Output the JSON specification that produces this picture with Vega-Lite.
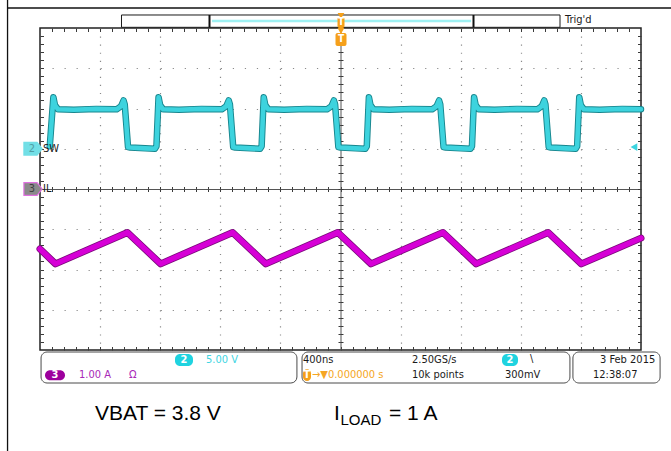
{
 "$schema": "https://vega.github.io/schema/vega-lite/v6.json",
 "width": 601,
 "height": 322,
 "autosize": "none",
 "padding": {"left": 40, "top": 28, "right": 30, "bottom": 101},
 "background": "white",
 "config": {
  "view": {"stroke": "#222222", "strokeWidth": 1.5},
  "axis": {"labels": false, "grid": false, "domain": false, "ticks": false, "tickColor": "#3a3a3a", "tickWidth": 1, "domainColor": "#555555", "domainWidth": 1, "gridColor": "#8a8a8a", "gridWidth": 1.2, "gridOpacity": 1},
  "text": {"font": "DejaVu Sans Condensed, DejaVu Sans, sans-serif", "fontSize": 11, "baseline": "middle", "align": "left"}
 },
 "resolve": {"scale": {"y": "independent", "color": "independent", "fill": "independent", "stroke": "independent"}, "axis": {"x": "independent", "y": "independent"}},
 "datasets": {
  "frame": [{"t": -2216, "t2": -2216, "y": 4.75, "y2": -6.6}, {"t": -2216, "t2": 2210, "y": 4.497, "y2": 4.497}],
  "boxes": [{"t": -1993, "t2": -290, "y": -4.05, "y2": -4.82}, {"t": -256, "t2": 1527, "y": -4.05, "y2": -4.82}, {"t": 1547, "t2": 2127, "y": -4.05, "y2": -4.82}],
  "trigbar": [{"t": -1457.6, "t2": 1460.9, "y": 4.323, "y2": 4.017}],
  "brackets": [{"t": -871.9, "t2": -871.9, "y": 4.323, "y2": 4.017}, {"t": 885.2, "t2": 885.2, "y": 4.323, "y2": 4.017}],
  "cyanbar": [{"t": -855, "t2": 869, "y": 4.174, "y2": 4.174}],
  "sw": [
   {"t": -1935, "v": 0.3}, {"t": -1911, "v": 6.4}, {"t": -1900, "v": 5.4}, {"t": -1880, "v": 4.9}, {"t": -1775, "v": 4.85}, {"t": -1625, "v": 4.95}, {"t": -1490, "v": 4.9}, {"t": -1460, "v": 5.3}, {"t": -1444, "v": 6.0}, {"t": -1436, "v": 5.5}, {"t": -1414, "v": 0.2}, {"t": -1400, "v": 0.15}, {"t": -1300, "v": 0.05}, {"t": -1235, "v": 0.0}, {"t": -1225, "v": 0.3},
   {"t": -1211, "v": 6.4}, {"t": -1200, "v": 5.4}, {"t": -1180, "v": 4.9}, {"t": -1075, "v": 4.85}, {"t": -925, "v": 4.95}, {"t": -790, "v": 4.9}, {"t": -760, "v": 5.3}, {"t": -744, "v": 6.0}, {"t": -736, "v": 5.5}, {"t": -714, "v": 0.2}, {"t": -700, "v": 0.15}, {"t": -600, "v": 0.05}, {"t": -535, "v": 0.0}, {"t": -525, "v": 0.3},
   {"t": -511, "v": 6.4}, {"t": -500, "v": 5.4}, {"t": -480, "v": 4.9}, {"t": -375, "v": 4.85}, {"t": -225, "v": 4.95}, {"t": -90, "v": 4.9}, {"t": -60, "v": 5.3}, {"t": -44, "v": 6.0}, {"t": -36, "v": 5.5}, {"t": -14, "v": 0.2}, {"t": 0, "v": 0.15}, {"t": 100, "v": 0.05}, {"t": 165, "v": 0.0}, {"t": 175, "v": 0.3},
   {"t": 189, "v": 6.4}, {"t": 200, "v": 5.4}, {"t": 220, "v": 4.9}, {"t": 325, "v": 4.85}, {"t": 475, "v": 4.95}, {"t": 610, "v": 4.9}, {"t": 640, "v": 5.3}, {"t": 656, "v": 6.0}, {"t": 664, "v": 5.5}, {"t": 686, "v": 0.2}, {"t": 700, "v": 0.15}, {"t": 800, "v": 0.05}, {"t": 865, "v": 0.0}, {"t": 875, "v": 0.3},
   {"t": 889, "v": 6.4}, {"t": 900, "v": 5.4}, {"t": 920, "v": 4.9}, {"t": 1025, "v": 4.85}, {"t": 1175, "v": 4.95}, {"t": 1310, "v": 4.9}, {"t": 1340, "v": 5.3}, {"t": 1356, "v": 6.0}, {"t": 1364, "v": 5.5}, {"t": 1386, "v": 0.2}, {"t": 1400, "v": 0.15}, {"t": 1500, "v": 0.05}, {"t": 1565, "v": 0.0}, {"t": 1575, "v": 0.3},
   {"t": 1589, "v": 6.4}, {"t": 1600, "v": 5.4}, {"t": 1620, "v": 4.9}, {"t": 1725, "v": 4.85}, {"t": 1875, "v": 4.95}, {"t": 2000, "v": 4.9}
  ],
  "il": [
   {"t": -2000, "y": -1.49}, {"t": -1897, "y": -1.86}, {"t": -1418, "y": -1.08}, {"t": -1197, "y": -1.86}, {"t": -718, "y": -1.08}, {"t": -497, "y": -1.86}, {"t": -18, "y": -1.08}, {"t": 203, "y": -1.86}, {"t": 682, "y": -1.08}, {"t": 903, "y": -1.86}, {"t": 1382, "y": -1.08}, {"t": 1603, "y": -1.86}, {"t": 2000, "y": -1.22}
  ],
  "trigtri": [{"t": 3, "y": 4.30}, {"t": 3, "y": 3.925}],
  "trigrect": [{"t": -20, "t2": 26.6, "y": 4.273, "y2": 4.0}, {"t": -33.3, "t2": 40, "y": 3.876, "y2": 3.553}],
  "trigtext": [{"t": 3.3, "y": 4.137, "text": "T"}, {"t": 3.3, "y": 3.715, "text": "T"}],
  "level": [{"t": 1953, "y": 1.043}],
  "badges": [{"t": -2046.6, "y": 1.0, "ch": "2", "text": "2"}, {"t": -2046.6, "y": 0, "ch": "3", "text": "3"}],
  "pills": [{"t": -1101.5, "t2": -981.7, "y": -4.10, "y2": -4.40, "ch": "2"}, {"t": -1966.7, "t2": -1833.6, "y": -4.50, "y2": -4.75, "ch": "3"}, {"t": 1074.9, "t2": 1181.4, "y": -4.10, "y2": -4.40, "ch": "2"}, {"t": -249.6, "t2": -196.3, "y": -4.48, "y2": -4.77, "ch": "T"}],
  "pilltexts": [{"t": -1041.6, "y": -4.25, "text": "2"}, {"t": -1900, "y": -4.625, "text": "3"}, {"t": 1128, "y": -4.25, "text": "2"}, {"t": -223, "y": -4.625, "text": "T"}],
  "infotexts": [
   {"t": -895.2, "y": -4.25, "text": "5.00 V", "ch": "2"},
   {"t": -1740.4, "y": -4.62, "text": "1.00 A", "ch": "3"},
   {"t": -1407.7, "y": -4.62, "text": "Ω", "ch": "3"},
   {"t": -249.6, "y": -4.25, "text": "400ns", "ch": "k"},
   {"t": 475.9, "y": -4.25, "text": "2.50GS/s", "ch": "k"},
   {"t": 1261, "y": -4.22, "text": "\\", "ch": "k"},
   {"t": -189.7, "y": -4.62, "text": "→▼0.000000 s", "ch": "T"},
   {"t": 475.9, "y": -4.62, "text": "10k points", "ch": "k"},
   {"t": 1094.9, "y": -4.62, "text": "300mV", "ch": "k"},
   {"t": 1727.1, "y": -4.25, "text": "3 Feb  2015", "ch": "k"},
   {"t": 1680.5, "y": -4.62, "text": "12:38:07", "ch": "k"},
   {"t": 1494.2, "y": 4.199, "text": "Trig'd", "ch": "k"},
   {"t": -1980, "y": 1.0, "text": "SW", "ch": "k"},
   {"t": -1980, "y": 0, "text": "IL", "ch": "k"}
  ],
  "caption": [{"t": -1634, "y": -5.6, "text": "VBAT = 3.8 V"}, {"t": -43.3, "y": -5.6, "text": "I"}, {"t": 322.8, "y": -5.6, "text": "= 1 A"}],
  "captionsub": [{"t": 0, "y": -5.75, "text": "LOAD"}]
 },
 "encoding": {
  "x": {"field": "t", "type": "quantitative", "scale": {"domain": [-2000, 2000], "nice": false, "zero": false}, "axis": null},
  "y": {"field": "y", "type": "quantitative", "scale": {"domain": [-4, 4], "nice": false, "zero": false}, "axis": null}
 },
 "layer": [
  {
   "data": {"name": "frame"},
   "mark": {"type": "rule", "color": "#111111", "strokeWidth": 1.3},
   "encoding": {
    "x": {"field": "t", "type": "quantitative", "scale": {"domain": [-2000, 2000], "nice": false, "zero": false}, "axis": {"orient": "bottom", "grid": true, "gridDash": [1.2, 6.85], "values": [-1600, -1200, -800, -400, 400, 800, 1200, 1600], "title": null}},
    "x2": {"field": "t2"},
    "y": {"field": "y", "type": "quantitative", "scale": {"domain": [-4, 4], "nice": false, "zero": false}, "axis": {"orient": "left", "grid": true, "gridDash": [1.2, 10.82], "values": [-3, -2, -1, 1, 2, 3], "title": null}},
    "y2": {"field": "y2"}
   }
  },
  {
   "data": {"name": "boxes"},
   "mark": {"type": "rect", "fill": "white", "stroke": "#4a4a4a", "strokeWidth": 1, "cornerRadius": 6},
   "encoding": {
    "x": {"field": "t", "type": "quantitative", "scale": {"domain": [-2000, 2000], "nice": false, "zero": false}, "axis": {"orient": "bottom", "ticks": true, "tickSize": -3.5, "values": [-1920,-1840,-1760,-1680,-1600,-1520,-1440,-1360,-1280,-1200,-1120,-1040,-960,-880,-800,-720,-640,-560,-480,-400,-320,-240,-160,-80,0,80,160,240,320,400,480,560,640,720,800,880,960,1040,1120,1200,1280,1360,1440,1520,1600,1680,1760,1840,1920], "title": null}},
    "x2": {"field": "t2"},
    "y": {"field": "y", "type": "quantitative", "scale": {"domain": [-4, 4], "nice": false, "zero": false}, "axis": {"orient": "left", "ticks": true, "tickSize": -3.5, "values": [-3.8,-3.6,-3.4,-3.2,-3,-2.8,-2.6,-2.4,-2.2,-2,-1.8,-1.6,-1.4,-1.2,-1,-0.8,-0.6,-0.4,-0.2,0,0.2,0.4,0.6,0.8,1,1.2,1.4,1.6,1.8,2,2.2,2.4,2.6,2.8,3,3.2,3.4,3.6,3.8], "title": null}},
    "y2": {"field": "y2"}
   }
  },
  {
   "data": {"name": "trigbar"},
   "mark": {"type": "rect", "fill": "white", "stroke": "#1a1a1a", "strokeWidth": 1},
   "encoding": {
    "x": {"field": "t", "type": "quantitative", "scale": {"domain": [-2000, 2000], "nice": false, "zero": false}, "axis": {"orient": "top", "ticks": true, "tickSize": -3.5, "values": [-1920,-1840,-1760,-1680,-1600,-1520,-1440,-1360,-1280,-1200,-1120,-1040,-960,-880,-800,-720,-640,-560,-480,-400,-320,-240,-160,-80,0,80,160,240,320,400,480,560,640,720,800,880,960,1040,1120,1200,1280,1360,1440,1520,1600,1680,1760,1840,1920], "title": null}},
    "x2": {"field": "t2"},
    "y": {"field": "y", "type": "quantitative", "scale": {"domain": [-4, 4], "nice": false, "zero": false}, "axis": {"orient": "right", "ticks": true, "tickSize": -3.5, "values": [-3.8,-3.6,-3.4,-3.2,-3,-2.8,-2.6,-2.4,-2.2,-2,-1.8,-1.6,-1.4,-1.2,-1,-0.8,-0.6,-0.4,-0.2,0,0.2,0.4,0.6,0.8,1,1.2,1.4,1.6,1.8,2,2.2,2.4,2.6,2.8,3,3.2,3.4,3.6,3.8], "title": null}},
    "y2": {"field": "y2"}
   }
  },
  {
   "data": {"name": "brackets"},
   "mark": {"type": "rule", "color": "#111111", "strokeWidth": 2},
   "encoding": {
    "x": {"field": "t", "type": "quantitative", "scale": {"domain": [-2000, 2000], "nice": false, "zero": false}, "axis": {"orient": "bottom", "offset": -161, "domain": true, "ticks": true, "tickSize": 2.5, "values": [-1920,-1840,-1760,-1680,-1600,-1520,-1440,-1360,-1280,-1200,-1120,-1040,-960,-880,-800,-720,-640,-560,-480,-400,-320,-240,-160,-80,0,80,160,240,320,400,480,560,640,720,800,880,960,1040,1120,1200,1280,1360,1440,1520,1600,1680,1760,1840,1920], "title": null}},
    "x2": {"field": "t2"},
    "y": {"field": "y", "type": "quantitative", "scale": {"domain": [-4, 4], "nice": false, "zero": false}, "axis": {"orient": "left", "offset": -300.5, "domain": true, "ticks": true, "tickSize": 2.5, "values": [-3.8,-3.6,-3.4,-3.2,-3,-2.8,-2.6,-2.4,-2.2,-2,-1.8,-1.6,-1.4,-1.2,-1,-0.8,-0.6,-0.4,-0.2,0,0.2,0.4,0.6,0.8,1,1.2,1.4,1.6,1.8,2,2.2,2.4,2.6,2.8,3,3.2,3.4,3.6,3.8], "title": null}},
    "y2": {"field": "y2"}
   }
  },
  {
   "data": {"name": "cyanbar"},
   "mark": {"type": "rule", "color": "#9ef0f2", "strokeWidth": 2.5},
   "encoding": {
    "x": {"field": "t", "type": "quantitative", "scale": {"domain": [-2000, 2000], "nice": false, "zero": false}, "axis": {"orient": "top", "offset": -161, "ticks": true, "tickSize": 2.5, "values": [-1920,-1840,-1760,-1680,-1600,-1520,-1440,-1360,-1280,-1200,-1120,-1040,-960,-880,-800,-720,-640,-560,-480,-400,-320,-240,-160,-80,0,80,160,240,320,400,480,560,640,720,800,880,960,1040,1120,1200,1280,1360,1440,1520,1600,1680,1760,1840,1920], "title": null}},
    "x2": {"field": "t2"},
    "y": {"field": "y", "type": "quantitative", "scale": {"domain": [-4, 4], "nice": false, "zero": false}, "axis": {"orient": "right", "offset": -300.5, "ticks": true, "tickSize": 2.5, "values": [-3.8,-3.6,-3.4,-3.2,-3,-2.8,-2.6,-2.4,-2.2,-2,-1.8,-1.6,-1.4,-1.2,-1,-0.8,-0.6,-0.4,-0.2,0,0.2,0.4,0.6,0.8,1,1.2,1.4,1.6,1.8,2,2.2,2.4,2.6,2.8,3,3.2,3.4,3.6,3.8], "title": null}},
    "y2": {"field": "y2"}
   }
  },
  {
   "data": {"name": "sw"},
   "mark": {"type": "line", "color": "#17868e", "strokeWidth": 6.5, "strokeJoin": "round", "strokeCap": "round"},
   "encoding": {
    "y": {"field": "v", "type": "quantitative", "scale": {"domain": [-25, 15], "nice": false, "zero": false}, "axis": null}
   }
  },
  {
   "data": {"name": "sw"},
   "mark": {"type": "line", "color": "#3dd3de", "strokeWidth": 4.6, "strokeJoin": "round", "strokeCap": "round"},
   "encoding": {
    "y": {"field": "v", "type": "quantitative", "scale": {"domain": [-25, 15], "nice": false, "zero": false}, "axis": null}
   }
  },
  {
   "data": {"name": "il"},
   "mark": {"type": "line", "color": "#7a0a7a", "strokeWidth": 7, "strokeJoin": "round", "strokeCap": "round"},
   "encoding": {}
  },
  {
   "data": {"name": "il"},
   "mark": {"type": "line", "color": "#d600d6", "strokeWidth": 5.4, "strokeJoin": "round", "strokeCap": "round"},
   "encoding": {}
  },
  {
   "data": {"name": "trigtri"},
   "mark": {"type": "point", "shape": "triangle-down", "filled": true, "color": "#f5a01a", "opacity": 1, "size": 45},
   "encoding": {}
  },
  {
   "data": {"name": "trigrect"},
   "mark": {"type": "rect", "color": "#f5a01a", "cornerRadius": 2},
   "encoding": {"x2": {"field": "t2"}, "y2": {"field": "y2"}}
  },
  {
   "data": {"name": "trigtext"},
   "mark": {"type": "text", "color": "white", "align": "center", "fontWeight": "bold", "fontSize": 10},
   "encoding": {"text": {"field": "text"}}
  },
  {
   "data": {"name": "level"},
   "mark": {"type": "point", "shape": "triangle-left", "filled": true, "color": "#3dd5e0", "opacity": 1, "size": 60},
   "encoding": {}
  },
  {
   "data": {"name": "badges"},
   "mark": {"type": "point", "shape": "M-1,-0.7L0.45,-0.7L1,0L0.45,0.7L-1,0.7Z", "filled": true, "opacity": 1, "size": 330, "strokeWidth": 1.2},
   "encoding": {
    "fill": {"field": "ch", "type": "nominal", "scale": {"domain": ["2", "3"], "range": ["#72dfe6", "#8a8a8a"]}, "legend": null},
    "stroke": {"field": "ch", "type": "nominal", "scale": {"domain": ["2", "3"], "range": ["#72dfe6", "#e070e0"]}, "legend": null}
   }
  },
  {
   "data": {"name": "badges"},
   "mark": {"type": "text", "align": "center", "fontSize": 11, "dx": -1},
   "encoding": {
    "text": {"field": "text"},
    "color": {"field": "ch", "type": "nominal", "scale": {"domain": ["2", "3"], "range": ["#4f9ea4", "#404040"]}, "legend": null}
   }
  },
  {
   "data": {"name": "pills"},
   "mark": {"type": "rect", "cornerRadius": 5},
   "encoding": {
    "x2": {"field": "t2"},
    "y2": {"field": "y2"},
    "fill": {"field": "ch", "type": "nominal", "scale": {"domain": ["2", "3", "T"], "range": ["#1fd3e0", "#9d009d", "#f5a01a"]}, "legend": null}
   }
  },
  {
   "data": {"name": "pilltexts"},
   "mark": {"type": "text", "align": "center", "color": "white", "fontSize": 11, "fontWeight": "bold"},
   "encoding": {"text": {"field": "text"}}
  },
  {
   "data": {"name": "infotexts"},
   "mark": {"type": "text", "fontSize": 11},
   "encoding": {
    "text": {"field": "text"},
    "color": {"field": "ch", "type": "nominal", "scale": {"domain": ["2", "3", "T", "k"], "range": ["#3fd5e2", "#a828b8", "#f5a623", "#1a1a1a"]}, "legend": null}
   }
  },
  {
   "data": {"name": "caption"},
   "mark": {"type": "text", "font": "Liberation Sans, Arial, sans-serif", "fontSize": 21, "color": "#000000"},
   "encoding": {"text": {"field": "text"}}
  },
  {
   "data": {"name": "captionsub"},
   "mark": {"type": "text", "font": "Liberation Sans, Arial, sans-serif", "fontSize": 15, "color": "#000000"},
   "encoding": {"text": {"field": "text"}}
  }
 ]
}
